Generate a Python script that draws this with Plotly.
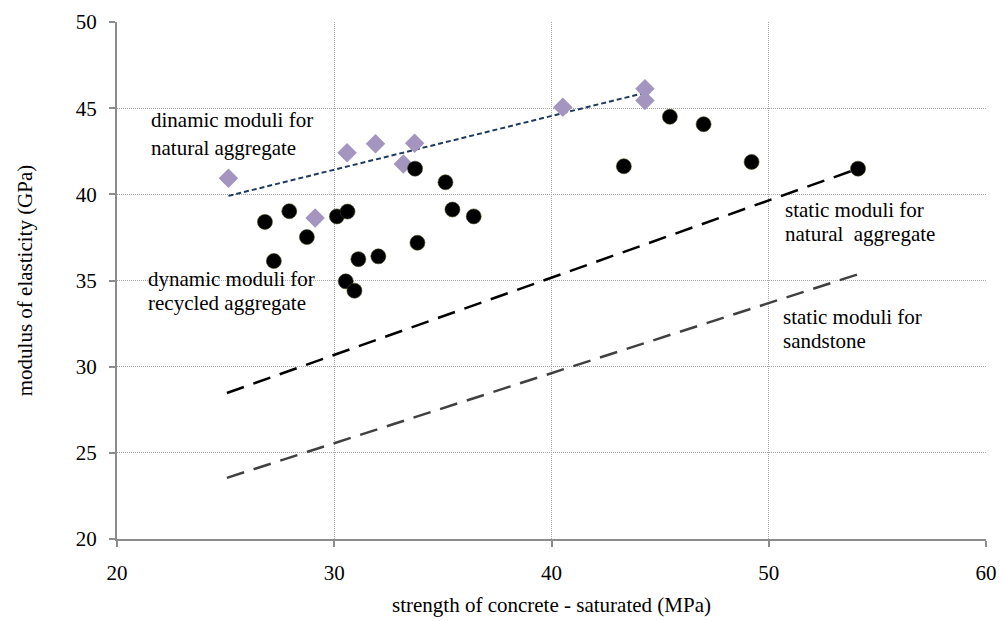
import plotly.graph_objects as go

# Dynamic moduli for natural aggregate (diamonds)
nat_x = [25.13, 29.12, 30.59, 31.90, 33.18, 33.70, 40.52, 44.30, 44.30]
nat_y = [40.93, 38.63, 42.42, 42.94, 41.76, 42.96, 45.06, 46.12, 45.45]

# Dynamic moduli for recycled aggregate (circles)
rec_x = [26.81, 27.93, 28.74, 27.22, 30.12, 30.61, 31.11, 32.03, 30.53, 30.93,
         33.72, 33.83, 35.12, 35.44, 36.42, 43.33, 45.45, 47.00, 49.21, 54.11]
rec_y = [38.40, 39.02, 37.52, 36.13, 38.72, 39.00, 36.24, 36.40, 34.95, 34.41,
         41.49, 37.19, 40.70, 39.12, 38.72, 41.63, 44.50, 44.07, 41.88, 41.49]

# Trend / reference lines (end points)
trend_nat_x = [25.13, 44.30]
trend_nat_y = [39.91, 45.89]
static_nat_x = [25.06, 54.11]
static_nat_y = [28.47, 41.49]
static_sand_x = [25.06, 54.16]
static_sand_y = [23.55, 35.38]

x_ticks = [20, 30, 40, 50, 60]
y_ticks = [20, 25, 30, 35, 40, 45, 50]

FONT = "Liberation Serif, Times New Roman, serif"

fig = go.Figure()
fig.add_trace(go.Scatter(x=static_sand_x, y=static_sand_y, mode="lines",
                         line=dict(color="#404040", width=2.5, dash="18px,10px")))
fig.add_trace(go.Scatter(x=static_nat_x, y=static_nat_y, mode="lines",
                         line=dict(color="#000000", width=2.5, dash="18px,10px")))
fig.add_trace(go.Scatter(x=trend_nat_x, y=trend_nat_y, mode="lines",
                         line=dict(color="#1f3a60", width=2, dash="5px,3px")))
fig.add_trace(go.Scatter(x=nat_x, y=nat_y, mode="markers",
                         marker=dict(symbol="diamond", size=15, color="#a395bf")))
fig.add_trace(go.Scatter(x=rec_x, y=rec_y, mode="markers",
                         marker=dict(symbol="circle", size=15, color="#000000",
                                     line=dict(color="#3c4a20", width=0.6))))

labels = [
    ("dinamic moduli for", 21.45, 44.29),
    ("natural aggregate", 21.45, 42.67),
    ("dynamic moduli for", 21.33, 35.08),
    ("recycled aggregate", 21.33, 33.69),
    ("static moduli for", 50.66, 39.11),
    ("natural  aggregate", 50.66, 37.72),
    ("static moduli for", 50.57, 32.86),
    ("sandstone", 50.57, 31.47),
]
for t, x, y in labels:
    fig.add_annotation(x=x, y=y, text=t.replace("  ", "&nbsp; "), showarrow=False,
                       xanchor="left", yanchor="middle",
                       font=dict(family=FONT, size=21, color="black"))

fig.update_layout(
    width=1001, height=621,
    margin=dict(l=117, r=15, t=22, b=82),
    paper_bgcolor="white", plot_bgcolor="white",
    showlegend=False,
    font=dict(family=FONT, size=20, color="black"),
)
fig.update_xaxes(range=[20, 60], tickvals=x_ticks, showgrid=True,
                 gridcolor="#a8a8a8", griddash="1px,1px", gridwidth=1,
                 showline=True, linecolor="#8c8c8c", linewidth=2,
                 ticks="outside", ticklen=6, tickcolor="#8c8c8c", tickwidth=2,
                 ticklabelstandoff=8, automargin=False,
                 zeroline=False, mirror=False,
                 title=dict(text="strength of concrete - saturated (MPa)",
                            font=dict(family=FONT, size=21), standoff=13),
                 tickfont=dict(family=FONT, size=21))
fig.update_yaxes(range=[20, 50], tickvals=y_ticks, showgrid=True,
                 gridcolor="#a8a8a8", griddash="1px,1px", gridwidth=1,
                 showline=True, linecolor="#8c8c8c", linewidth=2,
                 ticks="outside", ticklen=6, tickcolor="#8c8c8c", tickwidth=2,
                 ticklabelstandoff=8, automargin=False,
                 zeroline=False,
                 title=dict(text="modulus of elasticity (GPa)",
                            font=dict(family=FONT, size=21), standoff=37),
                 tickfont=dict(family=FONT, size=21))

fig.write_html("out.html")
